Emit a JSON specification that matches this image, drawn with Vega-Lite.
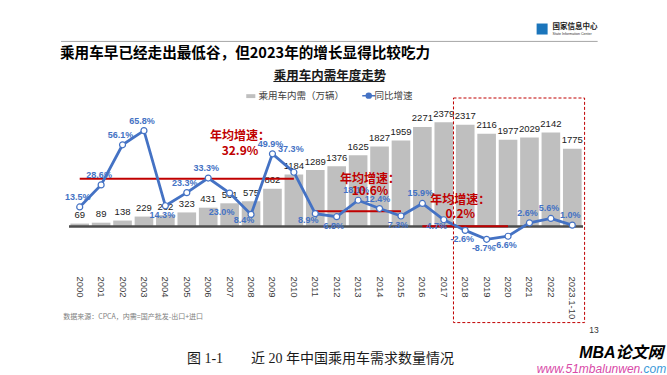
{
  "$schema": "https://vega.github.io/schema/vega-lite/v6.json",
  "width": 514,
  "height": 168,
  "autosize": {"type": "none"},
  "padding": {"left": 69, "top": 98, "right": 84, "bottom": 109},
  "background": "white",
  "config": {
    "view": {"stroke": null},
    "locale": {"number": {"decimal": ".", "thousands": ",", "grouping": [3], "currency": ["", ""], "minus": "-"}}
  },
  "title": {
    "text": "乘用车早已经走出最低谷，但2023年的增长显得比较吃力",
    "anchor": "start",
    "frame": "group",
    "font": "Noto Sans CJK SC",
    "fontSize": 14.6,
    "fontWeight": "bold",
    "color": "#000000",
    "dx": -9,
    "dy": 46,
    "offset": 0,
    "baseline": "middle"
  },
  "datasets": {
    "sales": [
      {"year": "2000", "sales": 69, "growth": 0.135},
      {"year": "2001", "sales": 89, "growth": 0.286},
      {"year": "2002", "sales": 138, "growth": 0.561},
      {"year": "2003", "sales": 229, "growth": 0.658},
      {"year": "2004", "sales": 262, "growth": 0.143},
      {"year": "2005", "sales": 323, "growth": 0.233},
      {"year": "2006", "sales": 431, "growth": 0.333},
      {"year": "2007", "sales": 531, "growth": 0.230},
      {"year": "2008", "sales": 575, "growth": 0.084},
      {"year": "2009", "sales": 862, "growth": 0.499},
      {"year": "2010", "sales": 1184, "growth": 0.373},
      {"year": "2011", "sales": 1289, "growth": 0.089},
      {"year": "2012", "sales": 1376, "growth": 0.068},
      {"year": "2013", "sales": 1625, "growth": 0.181},
      {"year": "2014", "sales": 1827, "growth": 0.124},
      {"year": "2015", "sales": 1959, "growth": 0.073},
      {"year": "2016", "sales": 2271, "growth": 0.159},
      {"year": "2017", "sales": 2379, "growth": 0.047},
      {"year": "2018", "sales": 2317, "growth": -0.026},
      {"year": "2019", "sales": 2116, "growth": -0.087},
      {"year": "2020", "sales": 1977, "growth": -0.066},
      {"year": "2021", "sales": 2029, "growth": 0.026},
      {"year": "2022", "sales": 2142, "growth": 0.056},
      {"year": "2023.1-10", "sales": 1775, "growth": 0.010}
    ],
    "averages": [
      {"start": "2000", "end": "2010", "rate": 0.329},
      {"start": "2011", "end": "2015", "rate": 0.106},
      {"start": "2016", "end": "2020", "rate": 0.002}
    ],
    "one": [{}]
  },
  "data": {"name": "sales"},
  "layer": [
    {
      "layer": [
        {
          "mark": {"type": "bar", "color": "#bfbfbf"},
          "encoding": {
            "x": {
              "field": "year", "type": "nominal", "sort": null,
              "scale": {"domain": ["2000","2001","2002","2003","2004","2005","2006","2007","2008","2009","2010","2011","2012","2013","2014","2015","2016","2017","2018","2019","2020","2021","2022","2023.1-10"], "paddingInner": 0.13, "paddingOuter": 0.065},
              "axis": {
                "title": "图 1-1\u3000\u3000近 20 年中国乘用车需求数量情况",
                "titleFont": "Liberation Serif, Noto Sans CJK SC",
                "titleFontSize": 14,
                "titleFontWeight": "normal",
                "titleColor": "#1a1a1a",
                "titleX": 251,
                "titleY": 92,
                "titleAlign": "center",
                "titleBaseline": "middle",
                "titleAnchor": null,
                "labelAngle": 90,
                "labelPadding": 10,
                "labelFont": "Liberation Sans",
                "labelFontSize": 9.5,
                "labelColor": "#404040",
                "labelOverlap": false,
                "ticks": false,
                "domain": false,
                "grid": false
              }
            },
            "y": {"field": "sales", "type": "quantitative", "scale": {"domain": [-897, 2929], "nice": false, "zero": false}, "axis": null},
            "color": {
              "datum": "乘用车内需（万辆）",
              "scale": {"domain": ["乘用车内需（万辆）", "同比增速"], "range": ["#bfbfbf", "#4472c4"]},
              "legend": {
                "orient": "none",
                "legendX": 179,
                "legendY": -28,
                "direction": "horizontal",
                "title": "乘用车内需年度走势",
                "titleOrient": "top",
                "titleAnchor": "middle",
                "titleFont": "Noto Sans CJK SC",
                "titleFontSize": 12.5,
                "titleFontWeight": "bold",
                "titleColor": "#1a1a1a",
                "titlePadding": 8,
                "labelFont": "Noto Sans CJK SC",
                "labelFontSize": 9.5,
                "labelColor": "#404040",
                "labelOffset": 1,
                "symbolSize": 169,
                "columnPadding": 14,
                "padding": 0,
                "encode": {
                  "symbols": {
                    "update": {
                      "shape": {"signal": "datum.value === '同比增速' ? 'M-1,0H-0.38M0.38,0H1M0.38,0A0.38,0.38,0,1,1,-0.38,0A0.38,0.38,0,1,1,0.38,0' : 'M-1,-0.3H0.4V0.3H-1Z'"},
                      "fill": {"signal": "datum.value === '同比增速' ? '#ffffff' : '#bfbfbf'"},
                      "stroke": {"signal": "datum.value === '同比增速' ? '#4472c4' : '#bfbfbf'"},
                      "strokeWidth": {"signal": "datum.value === '同比增速' ? 1.5 : 0"},
                      "opacity": {"value": 1},
                      "fillOpacity": {"value": 1},
                      "strokeOpacity": {"value": 1}
                    }
                  }
                }
              }
            }
          }
        },
        {
          "mark": {"type": "text", "baseline": "middle", "dy": -8.5, "font": "Liberation Sans", "fontSize": 9.5, "color": "#1a1a1a"},
          "encoding": {
            "x": {"field": "year", "type": "nominal", "sort": null},
            "y": {"field": "sales", "type": "quantitative"},
            "text": {"field": "sales", "type": "quantitative"}
          }
        },
        {
          "data": {"name": "one"},
          "mark": {"type": "rule", "color": "#4d4d4d", "strokeWidth": 2.5},
          "encoding": {"y": {"datum": 0, "type": "quantitative"}}
        }
      ]
    },
    {
      "layer": [
        {
          "data": {"name": "averages"},
          "mark": {"type": "rule", "color": "#c00000", "strokeWidth": 2},
          "encoding": {
            "x": {"field": "start", "type": "nominal"},
            "x2": {"field": "end"},
            "y": {"field": "rate", "type": "quantitative", "scale": {"domain": [-0.27, 0.882], "nice": false, "zero": false}, "axis": null}
          }
        },
        {
          "mark": {"type": "line", "strokeWidth": 2.8},
          "encoding": {
            "x": {"field": "year", "type": "nominal", "sort": null},
            "y": {"field": "growth", "type": "quantitative", "scale": {"domain": [-0.27, 0.882], "nice": false, "zero": false}, "axis": null},
            "color": {"datum": "同比增速"}
          }
        },
        {
          "mark": {"type": "point", "filled": true, "fill": "#ffffff", "stroke": "#4472c4", "strokeWidth": 1.2, "size": 36, "opacity": 1},
          "encoding": {
            "x": {"field": "year", "type": "nominal", "sort": null},
            "y": {"field": "growth", "type": "quantitative"}
          }
        },
        {
          "transform": [{"filter": {"field": "year", "oneOf": ["2000","2001","2002","2003","2005","2006","2009","2013","2014","2016","2021","2022","2023.1-10"]}}],
          "mark": {"type": "text", "baseline": "middle", "dx": -2, "dy": -10, "font": "Liberation Sans", "fontWeight": "bold", "fontSize": 9, "color": "#4472c4"},
          "encoding": {
            "x": {"field": "year", "type": "nominal", "sort": null},
            "y": {"field": "growth", "type": "quantitative"},
            "text": {"field": "growth", "type": "quantitative", "format": ".1%"}
          }
        },
        {
          "transform": [{"filter": {"field": "year", "oneOf": ["2010"]}}],
          "mark": {"type": "text", "baseline": "middle", "dx": -3, "dy": -23, "font": "Liberation Sans", "fontWeight": "bold", "fontSize": 9, "color": "#4472c4"},
          "encoding": {
            "x": {"field": "year", "type": "nominal", "sort": null},
            "y": {"field": "growth", "type": "quantitative"},
            "text": {"field": "growth", "type": "quantitative", "format": ".1%"}
          }
        },
        {
          "transform": [{"filter": {"field": "year", "oneOf": ["2004","2012","2015","2018","2019","2020"]}}],
          "mark": {"type": "text", "baseline": "middle", "dx": -3, "dy": 9, "font": "Liberation Sans", "fontWeight": "bold", "fontSize": 9, "color": "#4472c4"},
          "encoding": {
            "x": {"field": "year", "type": "nominal", "sort": null},
            "y": {"field": "growth", "type": "quantitative"},
            "text": {"field": "growth", "type": "quantitative", "format": ".1%"}
          }
        },
        {
          "transform": [{"filter": {"field": "year", "oneOf": ["2008","2011","2017"]}}],
          "mark": {"type": "text", "baseline": "middle", "dx": -7, "dy": 6, "font": "Liberation Sans", "fontWeight": "bold", "fontSize": 9, "color": "#4472c4"},
          "encoding": {
            "x": {"field": "year", "type": "nominal", "sort": null},
            "y": {"field": "growth", "type": "quantitative"},
            "text": {"field": "growth", "type": "quantitative", "format": ".1%"}
          }
        },
        {
          "transform": [{"filter": {"field": "year", "oneOf": ["2007"]}}],
          "mark": {"type": "text", "baseline": "middle", "dx": -8, "dy": 19, "font": "Liberation Sans", "fontWeight": "bold", "fontSize": 9, "color": "#4472c4"},
          "encoding": {
            "x": {"field": "year", "type": "nominal", "sort": null},
            "y": {"field": "growth", "type": "quantitative"},
            "text": {"field": "growth", "type": "quantitative", "format": ".1%"}
          }
        },
        {
          "data": {"name": "one"},
          "mark": {"type": "rect", "fill": null, "fillOpacity": 0, "stroke": "#c00000", "strokeWidth": 1, "strokeDash": [3, 2]},
          "encoding": {
            "x": {"datum": "2018", "type": "nominal", "bandPosition": -0.13},
            "x2": {"datum": "2023.1-10", "bandPosition": 1.16},
            "y": {"datum": 0.882, "type": "quantitative"},
            "y2": {"datum": -0.658}
          }
        },
        {
          "data": {"name": "one"},
          "mark": {"type": "text", "text": ["年均增速：", "32.9%"], "lineHeight": 14.7, "align": "center", "baseline": "alphabetic", "dx": -11, "font": "Noto Sans CJK SC", "fontSize": 12, "fontWeight": "bold", "color": "#c00000"},
          "encoding": {"x": {"datum": "2008", "type": "nominal"}, "y": {"datum": 0.595, "type": "quantitative"}}
        },
        {
          "data": {"name": "one"},
          "mark": {"type": "text", "text": ["年均增速：", "10.6%"], "lineHeight": 11.7, "align": "center", "baseline": "alphabetic", "dx": -9.5, "font": "Noto Sans CJK SC", "fontSize": 12, "fontWeight": "bold", "color": "#c00000"},
          "encoding": {"x": {"datum": "2014", "type": "nominal"}, "y": {"datum": 0.299, "type": "quantitative"}}
        },
        {
          "data": {"name": "one"},
          "mark": {"type": "text", "text": ["年均增速：", "0.2%"], "lineHeight": 13.3, "align": "center", "baseline": "alphabetic", "dx": -5, "font": "Noto Sans CJK SC", "fontSize": 12, "fontWeight": "bold", "color": "#c00000"},
          "encoding": {"x": {"datum": "2018", "type": "nominal"}, "y": {"datum": 0.152, "type": "quantitative"}}
        },
        {
          "data": {"name": "one"},
          "mark": {"type": "rule", "color": "#a6a6a6", "strokeWidth": 1},
          "encoding": {
            "x": {"datum": "2000", "type": "nominal", "bandPosition": -0.5},
            "x2": {"datum": "2023.1-10", "bandPosition": 1.86},
            "y": {"datum": 1.27, "type": "quantitative"}
          }
        },
        {
          "data": {"name": "one"},
          "mark": {"type": "rule", "color": "#1a1a1a", "strokeWidth": 1},
          "encoding": {
            "x": {"datum": "2009", "type": "nominal", "bandPosition": 0.55},
            "x2": {"datum": "2014", "bandPosition": 0.76},
            "y": {"datum": 0.995, "type": "quantitative"}
          }
        },
        {
          "data": {"name": "one"},
          "mark": {"type": "point", "shape": "square", "filled": true, "color": "#1b75bb", "size": 121, "opacity": 1},
          "encoding": {
            "x": {"datum": "2022", "type": "nominal", "bandPosition": 0.03},
            "y": {"datum": 1.355, "type": "quantitative"}
          }
        },
        {
          "data": {"name": "one"},
          "mark": {"type": "text", "text": "国家信息中心", "align": "left", "baseline": "middle", "dx": 1.7, "font": "Noto Sans CJK SC", "fontSize": 7.5, "fontWeight": "bold", "color": "#222222"},
          "encoding": {"x": {"datum": "2022", "type": "nominal"}, "y": {"datum": 1.369, "type": "quantitative"}}
        },
        {
          "data": {"name": "one"},
          "mark": {"type": "text", "text": "State Information Center", "align": "left", "baseline": "middle", "dx": 1.7, "font": "Liberation Sans", "fontSize": 3.6, "color": "#333333"},
          "encoding": {"x": {"datum": "2022", "type": "nominal"}, "y": {"datum": 1.324, "type": "quantitative"}}
        },
        {
          "data": {"name": "one"},
          "mark": {"type": "text", "text": "数据来源：CPCA，内需=国产批发-出口+进口", "align": "left", "baseline": "middle", "dx": -16.5, "font": "Noto Sans CJK SC", "fontSize": 7, "color": "#808080"},
          "encoding": {"x": {"datum": "2000", "type": "nominal"}, "y": {"datum": -0.62, "type": "quantitative"}}
        },
        {
          "data": {"name": "one"},
          "mark": {"type": "text", "text": "13", "align": "center", "baseline": "middle", "dx": 21.8, "font": "Liberation Sans", "fontSize": 8.5, "color": "#333333"},
          "encoding": {"x": {"datum": "2023.1-10", "type": "nominal"}, "y": {"datum": -0.709, "type": "quantitative"}}
        },
        {
          "data": {"name": "one"},
          "mark": {"type": "text", "text": "MBA论文网", "align": "right", "baseline": "middle", "dx": 91.3, "font": "Liberation Sans, Noto Sans CJK SC", "fontSize": 16, "fontWeight": "bold", "fontStyle": "italic", "color": "#000000"},
          "encoding": {"x": {"datum": "2023.1-10", "type": "nominal"}, "y": {"datum": -0.867, "type": "quantitative"}}
        },
        {
          "data": {"name": "one"},
          "mark": {"type": "text", "text": "www.51mbalunwen.", "align": "right", "baseline": "middle", "dx": 71.3, "font": "Liberation Sans", "fontSize": 12, "fontStyle": "italic", "color": "#d94aa8"},
          "encoding": {"x": {"datum": "2023.1-10", "type": "nominal"}, "y": {"datum": -0.977, "type": "quantitative"}}
        },
        {
          "data": {"name": "one"},
          "mark": {"type": "text", "text": "com", "align": "left", "baseline": "middle", "dx": 71.3, "font": "Liberation Sans", "fontSize": 12, "fontStyle": "italic", "color": "#3b9ad9"},
          "encoding": {"x": {"datum": "2023.1-10", "type": "nominal"}, "y": {"datum": -0.977, "type": "quantitative"}}
        }
      ]
    }
  ],
  "resolve": {"scale": {"y": "independent"}}
}
